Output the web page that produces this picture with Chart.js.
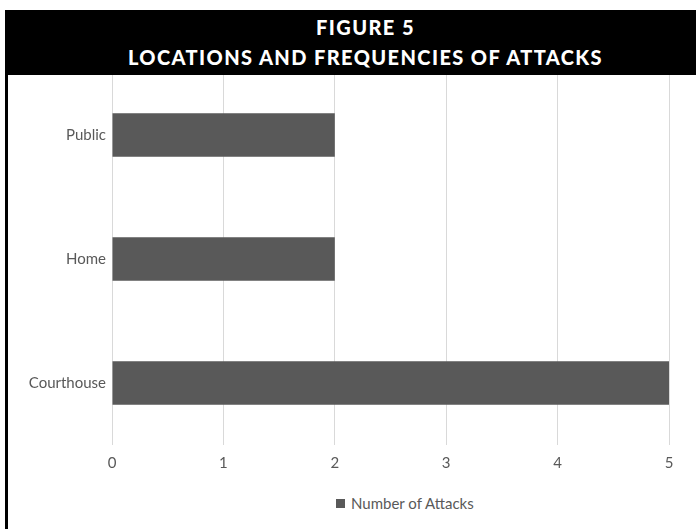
<!DOCTYPE html>
<html>
<head>
<meta charset="utf-8">
<script src="https://cdn.jsdelivr.net/npm/chart.js@4.4.1/dist/chart.umd.min.js"></script>
<style>
  html, body { margin: 0; padding: 0; background: #fff; }
  body { width: 696px; height: 529px; position: relative; overflow: hidden; }
  #frame { position: absolute; left: 5px; top: 10px; width: 691px; height: 519px;
           border-left: 3px solid #000; box-sizing: border-box; }
  #header { position: absolute; left: 5px; top: 10px; width: 691px; height: 65px;
            background: #000; color: #fff; z-index: 2; box-sizing: border-box;
            padding-left: 30px; text-align: center;
            font-family: Lato, "DejaVu Sans", sans-serif; font-weight: 900;
            font-size: 20px; letter-spacing: 1.4px; line-height: 30px; padding-top: 2px; }
  #wrap { position: absolute; left: 8px; top: 58px; width: 688px; height: 435px; }
  #legend { position: absolute; left: 336px; top: 494px; height: 18px;
            font-family: Lato, sans-serif; font-size: 15px; color: #595959;
            display: flex; align-items: center; }
  #legend span.box { display: inline-block; width: 9px; height: 9px; background: #595959; margin-right: 6px; }
</style>
</head>
<body>
<div id="frame"></div>
<div id="header">FIGURE 5<br>LOCATIONS AND FREQUENCIES OF ATTACKS</div>
<div id="wrap"><canvas id="chart"></canvas></div>
<div id="legend"><span class="box"></span><span id="legendText"></span></div>
<script>
// Attack locations and how many attacks happened at each
const locations = ['Public', 'Home', 'Courthouse'];
const attackCounts = [2, 2, 5];
const seriesName = 'Number of Attacks';
const xTicks = [0, 1, 2, 3, 4, 5];

const barColor = '#595959';
const gridColor = '#d9d9d9';
const textColor = '#595959';

document.getElementById('legendText').textContent = seriesName;

new Chart(document.getElementById('chart'), {
  type: 'bar',
  data: {
    labels: locations,
    datasets: [{
      label: seriesName,
      data: attackCounts,
      backgroundColor: barColor,
      borderWidth: 0,
      barPercentage: 0.35,
      categoryPercentage: 1.0
    }]
  },
  options: {
    indexAxis: 'y',
    responsive: true,
    maintainAspectRatio: false,
    animation: false,
    layout: { padding: { top: 0, right: 27, bottom: 0, left: 0 } },
    plugins: {
      legend: { display: false },
      tooltip: { enabled: false },
      title: { display: false }
    },
    scales: {
      x: {
        min: xTicks[0],
        max: xTicks[xTicks.length - 1],
        afterBuildTicks: (scale) => { scale.ticks = xTicks.map(v => ({ value: v })); },
        grid: { color: gridColor, lineWidth: 1, drawTicks: false },
        border: { display: false },
        ticks: { color: textColor, padding: 9, font: { family: 'Lato', size: 15 } },
        afterFit: (scale) => { scale.height = 48; }
      },
      y: {
        grid: { display: false, drawTicks: false },
        border: { display: false },
        ticks: { color: textColor, padding: 6, font: { family: 'Lato', size: 15 } },
        afterFit: (scale) => { scale.width = 104; }
      }
    }
  }
});
</script>
</body>
</html>
